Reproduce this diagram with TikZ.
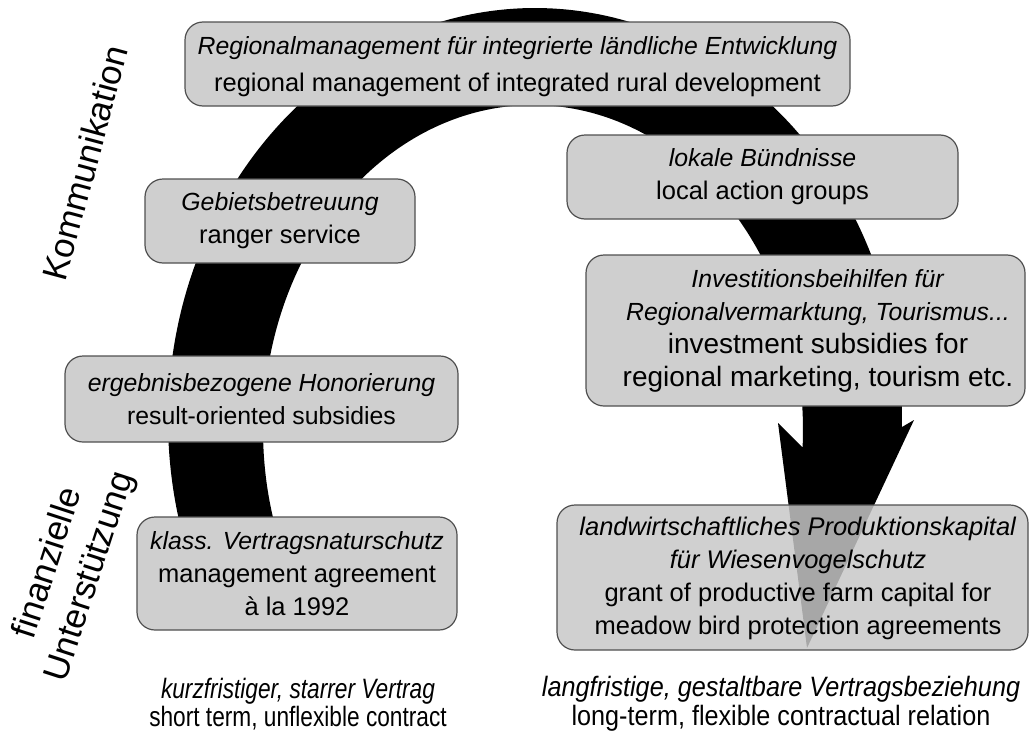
\documentclass[tikz,border=0pt]{standalone}
\usepackage{graphicx}
\usepackage{fontspec}
\setmainfont{Liberation Sans}
\definecolor{boxfill}{RGB}{207,207,207}
\definecolor{boxfilltr}{RGB}{200,200,200}
\definecolor{boxline}{RGB}{80,80,80}
\newcommand{\upl}[1]{{\fontsize{25.5}{33}\selectfont #1}}
\newcommand{\bigup}[1]{{\fontsize{28}{33}\selectfont #1}}
\begin{document}
\begin{tikzpicture}[x=1pt,y=-1pt,
  box/.style={draw=boxline, line width=1.2pt, fill=boxfill, rounded corners=18pt,
    align=center, inner sep=0pt, font=\fontsize{24.8}{33}\selectfont},
  boxtext/.style={align=center, inner sep=0pt, font=\fontsize{24.8}{33}\selectfont},
  sidelabel/.style={align=center, font=\fontsize{35}{44}\selectfont},
  bottomlabel/.style={align=center, font=\fontsize{28}{28.5}\selectfont}
]
\useasboundingbox (0,0) rectangle (1033,736);
\fill[white] (0,0) rectangle (1033,736);
% big curved arrow
\fill[black] (902,427)
  -- plot[domain=-1:205.9, samples=90, smooth] ({535+367*cos(\x)},{420-412*sin(\x)})
  -- plot[domain=0:214.7, samples=90, smooth] ({533+270*cos(211.5-\x)},{430-325*sin(211.5-\x)})
  -- (803,448) -- (778,423) -- (807,648) -- (914,420) -- cycle;
% boxes
\node[box, minimum width=665, minimum height=84] (regional) at (517.5,64) {};
\node[boxtext, font=\fontsize{24.8}{37}\selectfont] (regionaltext) at (517.5,67)
  {\textit{Regionalmanagement für integrierte ländliche Entwicklung}\\\upl{regional management of integrated rural development}};
\node[box, minimum width=270, minimum height=84] (gebiet) at (280,221)
  {\textit{Gebietsbetreuung}\\\upl{ranger service}};
\node[box, minimum width=393, minimum height=86] (ergebnis) at (261.5,399)
  {\textit{ergebnisbezogene Honorierung}\\result-oriented subsidies};
\node[box, minimum width=320, minimum height=113] (klass) at (297,573.5)
  {\textit{klass. Vertragsnaturschutz}\\\upl{management agreement}\\\upl{à la 1992}};
\node[box, minimum width=391, minimum height=84] (lokale) at (762.5,177)
  {\textit{lokale Bündnisse}\\\upl{local action groups}};
\node[box, minimum width=439, minimum height=151] (invest) at (805.5,330.5) {};
\node[boxtext] (investtext) at (818,331)
  {\textit{Investitionsbeihilfen für}\\\textit{Regionalvermarktung, Tourismus...}\\\bigup{investment subsidies for}\\\bigup{regional marketing, tourism etc.}};
\node[box, fill=boxfilltr, fill opacity=0.84, minimum width=471, minimum height=145] (landw) at (792.5,577.5) {};
\node[boxtext, font=\fontsize{25.5}{33}\selectfont] (landwtext) at (798,578)
  {\textit{landwirtschaftliches Produktionskapital}\\\textit{für Wiesenvogelschutz}\\grant of productive farm capital for\\meadow bird protection agreements};
% side labels
\node[sidelabel, rotate=75] (komm) at (85,163) {Kommunikation};
\node[sidelabel, rotate=72] (finanz) at (70,570) {finanzielle\\Unterstützung};
% bottom labels
\node[bottomlabel] (kurz) at (298,704) {\scalebox{0.81}[1]{\textit{kurzfristiger, starrer Vertrag}}\\\scalebox{0.81}[1]{short term, unflexible contract}};
\node[bottomlabel] (lang) at (781,704) {\scalebox{0.90}[1]{\textit{langfristige, gestaltbare Vertragsbeziehung}}\\\scalebox{0.90}[1]{long-term, flexible contractual relation}};
\end{tikzpicture}
\end{document}
